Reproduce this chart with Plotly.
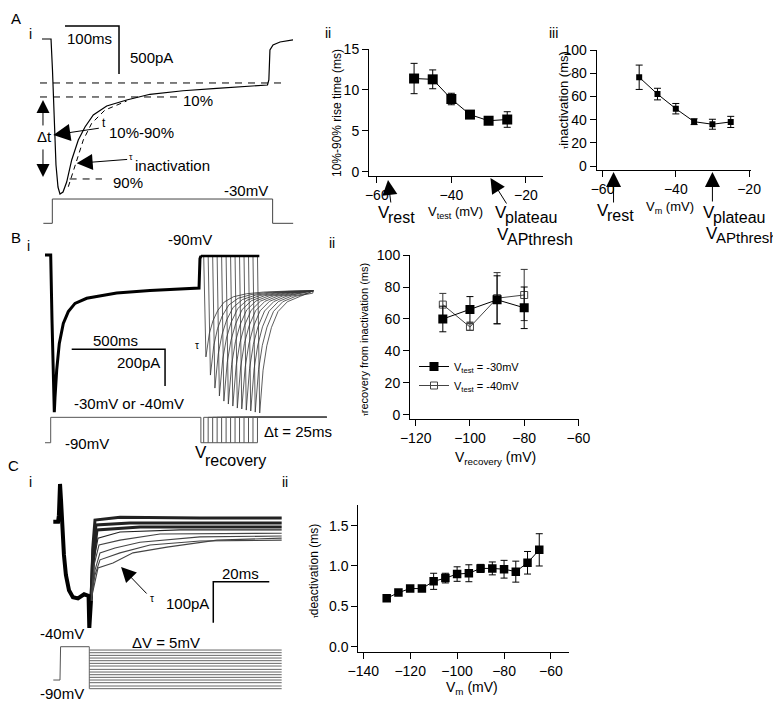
import plotly.graph_objects as go

FONT = "Liberation Sans, Arial, sans-serif"
W, H = 781, 708
OFF = 8  # page offset of the plot inside the browser window

# ---------------- A i : current trace at -30 mV (ms, pA) ----------------
a_trace_t = [-11.1, 5.6, 8.3, 11.1, 14.8, 18.5, 22.2, 27.8, 34.6, 43.9, 56.1, 68.5, 83.9,
             108.7, 145.7, 188.9, 250.0, 312.4, 374.0, 406.5, 409.0, 411.0, 416.7, 429.6, 453.7]
a_trace_i = [0, 0, -323, -844, -1313, -1542, -1615, -1594, -1490, -1260, -1052, -917, -792,
             -698, -635, -576, -539, -514, -490, -479, -427, -115, -62, -31, -10]
a_fit_t = [37.6, 50.0, 65.4, 80.9, 105.6, 145.7]
a_fit_i = [-1539, -1330, -1052, -878, -740, -646]
a_prot_t = [-8.6, 8.0, 8.0, 416.0, 416.0, 454.0]
a_prot_v = [-90, -90, -30, -30, -90, -90]
a_ss_level, a_10_level, a_90_level = -458, -604, -1458
a_scale_t = [31.5, 131.5, 131.5]
a_scale_i = [135, 135, -365]

# ---------------- A ii / A iii ----------------
vtest = [-50, -45, -40, -35, -30, -25]
rise_time = [11.4, 11.3, 8.9, 7.0, 6.25, 6.4]
rise_time_sem = [1.85, 1.15, 0.7, 0.3, 0.2, 0.95]
tau_inact = [76.5, 62.0, 49.4, 38.2, 36.0, 38.0]
tau_inact_sem = [10.5, 5.0, 4.5, 2.5, 4.3, 4.8]
v_rest, v_plateau = -57, -30

# ---------------- B i : recovery from inactivation (ms, pA / mV) ----------------
b_cond_t = [0, 30.5, 37.5, 45.5, 49.8, 53.6, 62.7, 76.6, 98.0, 124.8, 160.7, 223.4, 294.6,
            384.0, 562.4, 739.0, 825.0, 830.0, 835.0]
b_cond_i = [0, 0, -355, -736, -857, -775, -627, -482, -373, -309, -264, -236, -224,
            -207, -194, -185, -180, -20, -5]
b_step_to_rec = 835.0
b_rec_offsets = [15, 39, 63, 87, 111, 135, 159, 183, 207, 231, 255, 279, 303]
b_rec_peaks = [-556, -655, -726, -769, -797, -813, -824, -835, -840, -846, -851, -857, -862]
b_rec_shape_t = [12, 30, 50, 75, 110, 160, 230, 320, 450, 600]
b_rec_shape_g = [1.0, 0.65, 0.45, 0.30, 0.17, 0.09, 0.045, 0.02, 0.005, 0.0]
b_rec_top, b_rec_ss, b_rec_end = -5, -195, 1437
b_prot_end = 1509
b_scale_t = [143, 643, 643]
b_scale_i = [-514.5, -514.5, -714.5]

# ---------------- B ii ----------------
vrec = [-110, -100, -90, -80]
tau_rec_30 = [60, 66, 72, 67]
tau_rec_30_sem = [8, 8, 15, 13]
tau_rec_40 = [69, 55, 73, 75]
tau_rec_40_sem = [7, 2, 16, 16]

# ---------------- C i : deactivation tails (ms, pA / mV) ----------------
c_pre_t = [0, 1.7, 2.0, 2.4, 2.75, 3.3, 3.8, 4.5, 5.6, 7.0, 8.8, 11.0, 12.6, 12.86, 13.46]
c_pre_i = [0, 0, 16, 92, 53, -20, -81, -130, -167, -184, -187, -177, -181, -259, -191]
c_tails_t = [
    [13.46, 14.18, 14.89, 23.82, 52.39, 81.57],
    [13.46, 14.18, 15.25, 27.39, 81.57],
    [13.46, 14.54, 15.61, 30.96, 81.57],
    [13.46, 14.54, 15.96, 23.82, 45.25, 81.57],
    [13.46, 14.54, 16.32, 23.82, 38.11, 81.57],
    [13.46, 14.89, 16.68, 22.04, 30.96, 52.39, 81.57],
    [13.46, 14.89, 16.68, 23.82, 34.54, 52.39, 81.57],
    [13.46, 14.89, 15.96, 21.32, 28.46, 40.61, 58.46, 81.57],
]
c_tails_i = [
    [-191, -57, 4, 11, 9, 9],
    [-191, -68, -8, -3, -3],
    [-191, -81, -20, -13, -13],
    [-191, -93, -40, -25, -20, -20],
    [-191, -106, -57, -45, -30, -28],
    [-191, -118, -76, -64, -50, -37, -35],
    [-191, -130, -93, -76, -57, -47, -45],
    [-191, -142, -113, -101, -76, -62, -45, -40],
]
c_prot_t = [0, 2.39, 2.6, 12.86]
c_prot_v = [-90, -90, -40, -40]
c_levels = [-45, -49, -53, -57, -61, -65, -69, -74, -78, -82, -86, -90, -94, -99, -103]
c_step_t, c_end_t = 12.86, 81.57
c_scale_t = [77.14, 57.14, 57.14]
c_scale_i = [-146.3, -146.3, -246.3]

# ---------------- C ii ----------------
vm_deact = [-130, -125, -120, -115, -110, -105, -100, -95, -90, -85, -80, -75, -70, -65]
tau_deact = [0.60, 0.67, 0.72, 0.72, 0.81, 0.85, 0.90, 0.91, 0.97, 0.97, 0.96, 0.93, 1.04, 1.20]
tau_deact_sem = [0.02, 0.02, 0.02, 0.03, 0.10, 0.06, 0.09, 0.105, 0.05, 0.08, 0.11, 0.13, 0.14, 0.20]


def px(x):
    return (x - OFF) / W


def py(y):
    return 1 - (y - OFF) / H


fig = go.Figure()


def line(x, y, xa, ya, color="black", width=1, dash=None):
    fig.add_trace(go.Scatter(x=x, y=y, xaxis=xa, yaxis=ya, mode="lines",
                             line=dict(color=color, width=width, dash=dash),
                             showlegend=False, hoverinfo="skip"))


# ---- A i ----
line(a_trace_t, a_trace_i, "x", "y", width=1.2)
line(a_fit_t, a_fit_i, "x", "y", dash="5px,4px")
line([-14.8, 435], [a_ss_level] * 2, "x", "y", dash="7px,6px")
line([-14.8, 244], [a_10_level] * 2, "x", "y", dash="7px,6px")
line([40, 100], [a_90_level] * 2, "x", "y", dash="7px,6px")
line(a_scale_t, a_scale_i, "x", "y", width=1.5)
line(a_prot_t, a_prot_v, "x", "y2", color="#444")

# ---- B i ----
for off, pk in zip(b_rec_offsets, b_rec_peaks):
    t0 = b_step_to_rec + off
    tt = [b_step_to_rec, t0]
    ii = [b_rec_top, b_rec_top]
    for dt, g in zip(b_rec_shape_t, b_rec_shape_g):
        if t0 + dt <= b_rec_end:
            tt.append(t0 + dt)
            ii.append(b_rec_ss + (pk - b_rec_ss) * g)
    tt.append(b_rec_end)
    ii.append(b_rec_ss)
    line(tt, ii, "x5", "y5", color="#333", width=0.8)
line(b_cond_t, b_cond_i, "x5", "y5", width=3)
line([b_step_to_rec, b_step_to_rec + b_rec_offsets[-1] + 10], [b_rec_top] * 2, "x5", "y5", width=2.5)
line(b_scale_t, b_scale_i, "x5", "y5", width=1.5)
pt = [0, 30.5, 30.5, b_step_to_rec, b_step_to_rec, b_step_to_rec + b_rec_offsets[-1]]
pv = [-90, -90, -30, -30, -90, -90]
for off in b_rec_offsets:
    pt += [None, b_step_to_rec + off, b_step_to_rec + off, b_prot_end]
    pv += [None, -90, -30, -30]
line(pt, pv, "x5", "y6", color="#555", width=1)

# ---- C i ----
for k, (tt, ii) in enumerate(zip(c_tails_t, c_tails_i)):
    line(tt, ii, "x8", "y8", color="#222" if k < 4 else "#444", width=3 if k < 3 else 1.1)
line(c_pre_t, c_pre_i, "x8", "y8", width=4)
line(c_scale_t, c_scale_i, "x8", "y8", width=1.5)
line(c_prot_t, c_prot_v, "x8", "y9", color="#555")
lt, lv = [c_step_t, c_step_t], [c_prot_v[-1], min(c_levels)]
for lev in c_levels:
    lt += [None, c_step_t, c_end_t]
    lv += [None, lev, lev]
line(lt, lv, "x8", "y9", color="#666", width=1)


# ---- scatter panels ----
def errs(arr, color="black"):
    return dict(type="data", array=arr, color=color, thickness=1, width=3.5)


fig.add_trace(go.Scatter(x=vtest, y=rise_time, xaxis="x3", yaxis="y3", mode="lines+markers",
                         line=dict(color="black", width=1),
                         marker=dict(symbol="square", size=10, color="black"),
                         error_y=errs(rise_time_sem), showlegend=False))
fig.add_trace(go.Scatter(x=vtest, y=tau_inact, xaxis="x4", yaxis="y4", mode="lines+markers",
                         line=dict(color="black", width=1),
                         marker=dict(symbol="square", size=6, color="black"),
                         error_y=errs(tau_inact_sem), showlegend=False))
fig.add_trace(go.Scatter(x=vrec, y=tau_rec_40, xaxis="x7", yaxis="y7", mode="lines+markers",
                         name="V<sub>test</sub> = -40mV",
                         line=dict(color="#444", width=1),
                         marker=dict(symbol="square-open", size=7, color="#444", line=dict(width=1)),
                         error_y=errs(tau_rec_40_sem, "#333"), showlegend=True, legendrank=2))
fig.add_trace(go.Scatter(x=vrec, y=tau_rec_30, xaxis="x7", yaxis="y7", mode="lines+markers",
                         name="V<sub>test</sub> = -30mV",
                         line=dict(color="black", width=1),
                         marker=dict(symbol="square", size=9, color="black"),
                         error_y=errs(tau_rec_30_sem), showlegend=True, legendrank=1))
fig.add_trace(go.Scatter(x=vm_deact, y=tau_deact, xaxis="x10", yaxis="y10", mode="lines+markers",
                         line=dict(color="black", width=1),
                         marker=dict(symbol="square", size=8.5, color="black"),
                         error_y=errs(tau_deact_sem), showlegend=False))


def hidden(dom, rng, anchor, **kw):
    return dict(domain=dom, range=rng, visible=False, anchor=anchor, fixedrange=True, **kw)


def shown(dom, rng, anchor, tickvals, fmt=None):
    d = dict(domain=dom, range=rng, anchor=anchor, tickvals=tickvals, showline=True,
             linecolor="black", linewidth=1, ticks="outside", ticklen=6, tickwidth=1,
             tickcolor="black", showgrid=False, zeroline=False, fixedrange=True,
             tickfont=dict(family=FONT, size=14, color="black"))
    if fmt:
        d["tickformat"] = fmt
    return d


layout = dict(
    width=W, height=H, margin=dict(l=0, r=0, t=0, b=0, autoexpand=False),
    paper_bgcolor="white", plot_bgcolor="rgba(0,0,0,0)",
    font=dict(family=FONT, size=14, color="black"),
    xaxis=hidden([px(40), px(300)], [-14.81, 466.67], "y"),
    yaxis=hidden([py(230), py(20)], [-1989.6, 197.9], "x"),
    yaxis2=hidden([py(230), py(20)], [-106.5, 412.0], "x", overlaying="y"),
    xaxis3=shown([px(369), px(543)], [-62.1, -15.4], "y3", [-60, -40, -20]),
    yaxis3=shown([py(176), py(49)], [-0.49, 15], "x3", [0, 5, 10, 15]),
    xaxis4=shown([px(596.7), px(750.5)], [-61.6, -19.6], "y4", [-60, -40, -20]),
    yaxis4=shown([py(170), py(50)], [-3.45, 100], "x4", [0, 20, 40, 60, 80, 100]),
    xaxis5=hidden([px(40), px(340)], [-26.8, 1580.1], "y5"),
    yaxis5=hidden([py(470), py(245)], [-1172.9, 54.6], "x5"),
    yaxis6=hidden([py(470), py(245)], [-154.5, 377.4], "x5", overlaying="y5"),
    xaxis7=shown([px(410), px(579)], [-122.1, -59.8], "y7", [-120, -100, -80, -60]),
    yaxis7=shown([py(419.3), py(255)], [-2.7, 100], "x7", [0, 20, 40, 60, 80, 100]),
    xaxis8=hidden([px(40), px(290)], [-4.75, 84.54], "y8"),
    yaxis8=hidden([py(700), py(470)], [-434.9, 126.1], "x8"),
    yaxis9=hidden([py(700), py(470)], [-120.0, 225.3], "x8", overlaying="y8"),
    xaxis10=shown([px(358.3), px(569.3)], [-142.1, -52.2], "y10", [-140, -120, -100, -80, -60]),
    yaxis10=shown([py(652), py(505)], [-0.066, 1.756], "x10", [0, 0.5, 1.0, 1.5], ".1f"),
    legend=dict(x=px(414), y=py(352), xanchor="left", yanchor="top", bgcolor="rgba(0,0,0,0)",
                font=dict(family=FONT, size=11, color="black"), tracegroupgap=0,
                itemwidth=30, traceorder="normal"),
)
fig.update_layout(**layout)

ann = []


def txt(s, x, y, size=15, xa="center", ya="middle", angle=0):
    ann.append(dict(text=s, x=px(x), y=py(y), xref="paper", yref="paper", showarrow=False,
                    xanchor=xa, yanchor=ya, textangle=angle,
                    font=dict(family=FONT, size=size, color="black")))


def vsub(main, sub, xleft, y, fm=17, fs=16, dy=5):
    txt(main, xleft, y, fm, xa="left")
    txt(sub, xleft + 0.667 * fm - 1, y + dy, fs, xa="left")


def arrow(x, y, xref, yref, ax, ay, size=3.0):
    ann.append(dict(text="", x=x, y=y, xref=xref, yref=yref, ax=ax, ay=ay, showarrow=True,
                    arrowhead=2, arrowsize=size, arrowwidth=1, arrowcolor="black", standoff=0))


# panel letters
txt("A", 9, 8, 15, xa="left", ya="top"); txt("i", 30, 34, 14); txt("ii", 328, 33, 14); txt("iii", 553, 33, 14)
txt("B", 9, 237, 15, xa="left"); txt("i", 28, 246, 14); txt("ii", 332, 243, 14)
txt("C", 13, 465, 15); txt("i", 30, 482, 14); txt("ii", 285, 482, 14)

# A i texts
txt("100ms", 89.5, 38, 15); txt("500pA", 151, 57, 15)
txt("10%", 198, 101, 15); txt("90%", 128, 182, 15); txt("-30mV", 246, 191, 15)
txt("Δt", 44, 137, 15)
txt("t", 104, 123, 12); txt("10%-90%", 107, 132, 15, xa="left")
txt("τ", 131, 157, 9); txt("inactivation", 133, 165, 15, xa="left")
arrow(-9.3, -635, "x", "y", 0, 27, 2.6)
arrow(-9.3, -1437, "x", "y", 0, -29, 2.6)
arrow(9.9, -1000, "x", "y", 47, -7, 3.4)
arrow(53.1, -1295, "x", "y", 52, -4, 3.2)

# A ii labels
txt("10%-90% rise time (ms)", 337, 113, 12, angle=-90)
txt("V<sub>test</sub> (mV)", 455, 212, 13)
vsub("V", "rest", 376, 212)
vsub("V", "plateau", 493, 212)
vsub("V", "APthresh", 495, 234)
arrow(v_rest, py(180), "x3", "paper", 3, 24)
arrow(v_plateau + 0.5, py(178), "x3", "paper", 17, 27)

# A iii labels
txt("<span style='font-size:8px'>τ</span>inactivation (ms)", 563, 100, 13, angle=-90)
txt("V<sub>m</sub> (mV)", 670, 207, 13)
vsub("V", "rest", 595, 210)
vsub("V", "plateau", 701, 212)
vsub("V", "APthresh", 704, 233, 17, 15)
arrow(v_rest, py(172), "x4", "paper", 0, 32)
arrow(v_plateau, py(172), "x4", "paper", 0, 31)

# B i texts
txt("-90mV", 190, 240, 15)
txt("500ms", 115, 340, 15)
txt("200pA", 162, 363, 15, xa="right")
txt("τ", 197, 345, 10)
txt("-30mV or -40mV", 72, 403, 15, xa="left")
txt("-90mV", 63, 443, 15, xa="left")
txt("Δt = 25ms", 262, 431, 15, xa="left")
vsub("V", "recovery", 193, 452, 17, 16, 8)

# B ii labels
txt("<span style='font-size:7px'>τ</span>recovery from inactivation (ms)", 364, 340, 11, angle=-90)
txt("V<sub>recovery</sub> (mV)", 495, 458, 14)

# C i texts
txt("-40mV", 62, 633, 15); txt("-90mV", 62, 693, 15)
txt("ΔV = 5mV", 166, 642, 15)
txt("20ms", 240, 573, 15)
txt("100pA", 211, 603, 15, xa="right")
txt("τ", 152, 598, 10)
arrow(24.2, -110.5, "x8", "y8", 27, 28, 3.0)

# C ii labels
txt("<span style='font-size:7px'>τ</span>deactivation (ms)", 314, 571, 12, angle=-90)
txt("V<sub>m</sub> (mV)", 472, 688, 14)

fig.update_layout(annotations=ann)
fig.write_html("out.html")
